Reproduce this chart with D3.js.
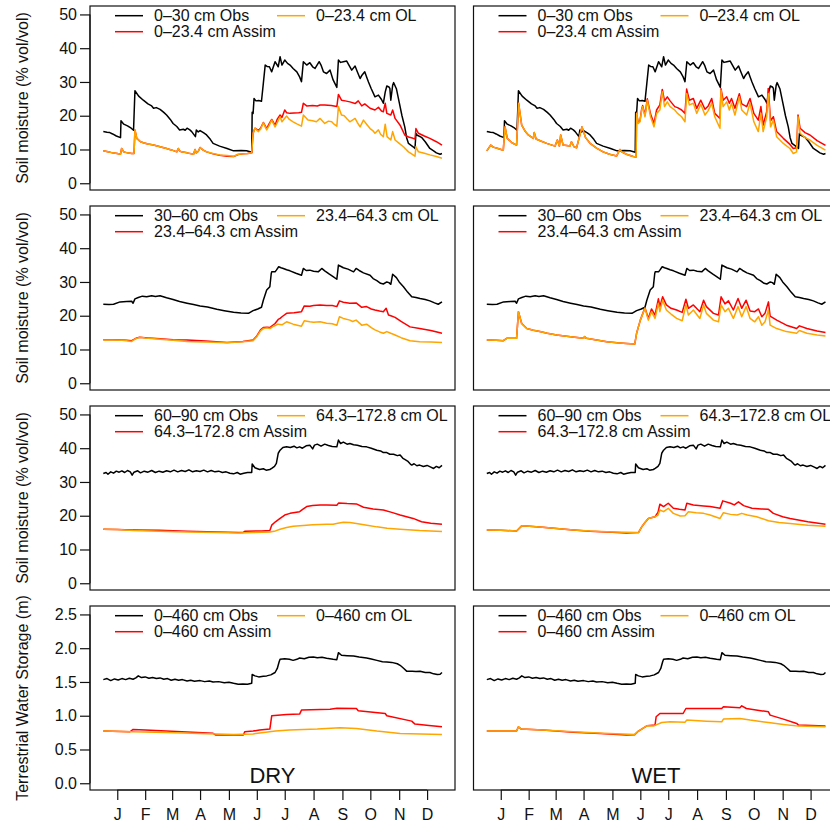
<!DOCTYPE html>
<html><head><meta charset="utf-8">
<script src="https://cdn.jsdelivr.net/npm/d3@7"></script>
<style>body{margin:0;background:#fff}svg{display:block;font-family:"Liberation Sans",Arial,Helvetica,sans-serif}</style>
</head><body><svg id="c" width="830" height="825"></svg>
<script>
const months = ["J","F","M","A","M","J","J","A","S","O","N","D"];
const monthDays = [15,45,74,104,135,165,195,226,257,287,318,348];
const soilTicks = [0,10,20,30,40,50];
const twsTicks = [0,0.5,1,1.5,2,2.5];
const yTitles = ["Soil moisture (% vol/vol)","Soil moisture (% vol/vol)","Soil moisture (% vol/vol)","Terrestrial Water Storage (m)"];
const legendObs = ["0\u201330 cm Obs","30\u201360 cm Obs","60\u201390 cm Obs","0\u2013460 cm Obs"];
const legendAssim = ["0\u201323.4 cm Assim","23.4\u201364.3 cm Assim","64.3\u2013172.8 cm Assim","0\u2013460 cm Assim"];
const legendOL = ["0\u201323.4 cm OL","23.4\u201364.3 cm OL","64.3\u2013172.8 cm OL","0\u2013460 cm OL"];
const scenarios = ["DRY","WET"];

// ---- Row 1: 0-30 cm ----
const obs1 = [[0,15.3],[4,15.1],[7,15.0],[10,14.6],[14,14.0],[18.5,13.5],[19,18.5],[22,17.5],[26,17.0],[30,16.3],[32.5,15.7],[34,27.4],[38,25.8],[43,24.6],[48,23.5],[52,22.9],[54,22.2],[57,22.4],[61,21.9],[65,21.0],[68,20.2],[72,18.9],[75,17.7],[79,16.8],[82,15.8],[86,16.0],[88,15.7],[90,16.3],[93,15.8],[95,15.3],[99,13.8],[100,15.8],[102,15.2],[104,15.6],[108,14.9],[111,14.3],[115,13.0],[118,11.8],[125,11.0],[133,10.3],[140,9.6],[148,9.7],[154,9.6],[159.5,9.2],[160,21.0],[161,20.7],[162,25.1],[164,24.4],[167,24.5],[170,24.3],[172,29.6],[174,35.0],[176,34.6],[178.5,34.5],[181,33.0],[184.6,36.0],[188,34.5],[190,37.5],[192,35.0],[195,36.5],[198,35.5],[200.7,35.0],[204,34.0],[208,33.0],[211,31.5],[213,30.1],[215,36.0],[218.6,35.0],[222,35.7],[225,34.5],[227.6,34.0],[232,36.0],[234,35.0],[236.6,33.0],[240,32.5],[243.7,33.5],[247,30.6],[251,28.4],[252.7,36.5],[255,35.8],[258,36.0],[261.6,36.2],[264,35.0],[267,33.5],[270.6,34.7],[273,33.0],[276,31.0],[278,32.0],[281,33.0],[283,31.5],[285,30.0],[288,28.0],[292,25.6],[295.7,26.1],[299,24.8],[301,23.7],[303,27.0],[304.7,28.8],[307,28.5],[308,28.1],[309,24.6],[311,29.0],[312,29.8],[315,28.0],[318,24.0],[321,20.0],[324,16.7],[326,13.5],[328,11.8],[333,10.8],[335,10.3],[336,14.8],[337,14.3],[342,13.6],[346,12.3],[351,10.3],[355,9.6],[358,9.0],[362,8.6],[364,8.8]];
const ol1Dry = [[0,9.6],[5,9.3],[10,9.0],[15,8.8],[18.5,8.6],[19.7,10.3],[22,9.3],[26,9.0],[30.5,8.8],[33,8.8],[34,15.8],[36,13.3],[40,12.3],[43,12.0],[48,11.6],[54,11.3],[60,10.9],[68,10.3],[74,9.8],[79,9.3],[80.6,10.3],[82,9.6],[84,9.3],[90,9.0],[97,8.6],[98.6,10.0],[100,9.0],[102,9.4],[104,10.6],[107,9.9],[111,9.3],[118,8.8],[125,8.4],[133,8.2],[140,8.0],[145,8.6],[150,8.7],[155,8.8],[159.5,9.0],[161,14.8],[163,16.3],[166.7,15.3],[169,16.0],[172,17.9],[175.6,15.8],[178,17.0],[181,18.7],[184.6,16.7],[187,18.0],[190,19.7],[192,18.2],[197,19.9],[200,18.9],[204,18.2],[208,17.6],[213,16.9],[215,20.2],[220,18.7],[225,18.5],[229,18.2],[233,19.2],[238,17.7],[242,18.4],[245.5,18.2],[248,17.5],[251,16.9],[252.7,22.7],[256,20.2],[259,20.0],[261.6,19.2],[265,18.2],[270.6,19.2],[273,18.0],[276,16.7],[279.6,18.7],[283,17.5],[286.7,16.2],[290,15.5],[292,14.8],[295.7,15.8],[298,14.5],[301,13.8],[303,17.5],[305,13.8],[309,12.8],[311,15.3],[313.6,12.8],[318,11.8],[322.6,10.8],[328,9.3],[333,8.4],[335,8.0],[336,10.8],[338.7,9.3],[345,8.9],[351,8.4],[358,7.9],[364,7.4]];
const assim1Dry = [[0,9.6],[5,9.3],[10,9.0],[15,8.8],[18.5,8.6],[19.7,10.3],[22,9.3],[26,9.0],[30.5,8.8],[33,8.8],[34,15.8],[36,13.3],[40,12.3],[43,12.0],[48,11.6],[54,11.3],[60,10.9],[68,10.3],[74,9.8],[79,9.3],[80.6,10.3],[82,9.6],[84,9.3],[90,9.0],[97,8.6],[98.6,10.0],[100,9.0],[102,9.4],[104,10.6],[107,9.9],[111,9.3],[118,8.7],[125,8.3],[133,8.0],[140,7.9],[145,8.5],[150,8.7],[155,8.8],[159.5,9.0],[161,14.8],[163,16.3],[166.7,15.6],[169,16.3],[172,18.0],[175.6,16.2],[178,17.5],[181,18.9],[184.6,17.2],[187,19.0],[190,20.2],[192,19.5],[195,21.7],[197,20.9],[200.7,20.7],[205,20.8],[210,20.9],[213,21.0],[215,23.7],[218.6,22.9],[225,23.0],[230,22.9],[233,23.2],[238,23.2],[245,23.0],[251,22.7],[252.7,26.3],[256,24.6],[260,24.4],[265,24.1],[270.6,23.6],[274,24.4],[277.8,22.9],[281,23.5],[286.7,22.2],[292,21.7],[295.7,22.5],[299,21.4],[301,21.2],[303,23.7],[304.7,20.7],[309,20.2],[311,21.7],[313.6,19.2],[319,17.2],[324,14.3],[328,13.7],[333,13.3],[335,13.1],[336,16.2],[338.7,14.8],[345,14.0],[351,13.3],[358,12.3],[364,11.3]];
const ol1Wet = [[0,9.6],[4.2,11.3],[7,10.7],[12,10.3],[17.7,9.8],[19.6,16.7],[22,13.3],[27,12.0],[32,11.3],[34.2,23.7],[37.5,17.2],[41,15.5],[44.6,14.3],[50,13.3],[51,15.0],[53,13.1],[58,12.5],[64.4,11.8],[73.3,11.0],[75.8,12.8],[78,11.0],[79.4,14.3],[82,11.3],[89.4,11.0],[91,12.3],[93.7,10.8],[96.5,10.5],[101,15.3],[102.3,16.7],[106,13.6],[111,11.8],[118,10.4],[125,9.3],[132,8.6],[139.6,8.1],[143,10.0],[145,9.3],[150,8.6],[157.4,7.9],[160.5,7.8],[161,20.7],[162.8,17.7],[164.6,18.2],[166.5,21.7],[167.5,22.7],[170,19.7],[172.5,24.6],[176,19.7],[179.7,16.7],[182.5,20.7],[186,21.7],[188.6,27.1],[191,22.7],[194,24.1],[197,22.7],[202,21.7],[205,20.7],[209.4,19.7],[213,18.2],[214.8,26.6],[217.7,23.2],[222,23.7],[225.6,20.7],[230,23.4],[234.5,20.2],[238,21.5],[241.7,23.7],[245,19.7],[250.6,16.3],[251.7,27.6],[254,22.7],[257.8,24.1],[260.7,21.7],[263,23.7],[266.7,20.2],[271.4,25.6],[274,21.7],[279.3,20.2],[282.9,23.7],[287,18.2],[291.8,15.3],[294.6,20.7],[297,15.3],[300.8,19.7],[302.5,26.6],[305,16.7],[308,18.7],[311.5,13.8],[318.7,11.8],[325.8,10.3],[329.4,8.8],[333,9.3],[334.5,19.7],[336.7,14.8],[342,13.5],[347.3,12.8],[355,11.2],[364,9.8]];
const assim1Wet = [[0,9.6],[4.2,11.3],[7,10.7],[12,10.3],[17.7,9.8],[19.6,16.7],[22,13.3],[27,12.0],[32,11.3],[34.2,23.7],[37.5,17.2],[41,15.5],[44.6,14.3],[50,13.3],[51,15.0],[53,13.1],[58,12.5],[64.4,11.8],[73.3,11.0],[75.8,12.8],[78,11.0],[79.4,14.3],[82,11.3],[89.4,11.0],[91,12.3],[93.7,10.8],[96.5,10.5],[101,15.3],[102.3,16.7],[106,13.6],[111,11.8],[118,10.4],[125,9.3],[132,8.6],[139.6,8.1],[143,10.0],[145,9.3],[150,8.6],[157.4,7.9],[160.5,7.8],[161,20.7],[162.8,17.9],[164.6,18.5],[166.5,22.0],[167.5,23.0],[170,20.2],[172.5,25.0],[176,20.5],[179.7,17.7],[182.5,21.7],[186,23.2],[188.6,27.8],[191,24.4],[194,25.6],[197,24.4],[202,22.7],[205,22.4],[209.4,21.7],[213,20.7],[214.8,27.9],[217.7,24.6],[222,25.1],[225.6,22.2],[230,24.6],[234.5,21.9],[238,22.9],[241.7,25.1],[245,20.7],[250.6,19.2],[251.7,28.0],[254,24.6],[257.8,25.6],[260.7,23.7],[263,25.1],[266.7,22.2],[271.4,26.5],[274,23.5],[279.3,22.7],[282.9,25.1],[287,20.7],[291.8,18.7],[294.6,22.7],[297,17.2],[300.8,21.2],[302.5,28.1],[305,18.5],[308,19.7],[311.5,15.3],[318.7,13.3],[325.8,11.5],[329.4,10.3],[333,10.5],[334.5,20.2],[336.7,16.3],[342,15.0],[347.3,14.3],[355,12.6],[364,11.2]];

// ---- Row 2: 30-60 cm ----
const obs2 = [[0,23.4],[6,23.3],[11,23.4],[18,24.1],[25,24.2],[30.5,24.3],[32,23.7],[34,25.0],[37.6,25.4],[42,25.8],[46.6,25.6],[52,25.9],[56,25.7],[61,25.9],[68,25.3],[75,24.8],[82,24.2],[90,23.7],[97,23.3],[104,22.9],[112,22.6],[122,21.9],[130,21.5],[140,21.0],[148,20.8],[156,20.7],[161,21.5],[166,22.0],[170,22.5],[172,24.6],[175.6,27.6],[179,28.6],[180.5,32.5],[181,33.0],[184.6,33.0],[186,33.5],[188.5,34.5],[191,34.2],[193.5,34.0],[197,33.6],[200.7,33.3],[207,32.6],[213,32.0],[215,34.0],[218,33.4],[222,33.5],[226,33.2],[231,33.0],[234.8,34.0],[238,33.3],[243,32.3],[247,31.6],[251,30.8],[252.7,35.0],[256,34.5],[258,34.2],[263,33.8],[269,33.0],[271.7,34.0],[275,33.4],[279.6,32.7],[286.7,32.0],[290,31.0],[294,30.4],[298,29.6],[301,29.4],[304.7,30.0],[307,29.8],[309,29.3],[311,32.3],[315,31.3],[318,30.0],[322.6,28.6],[327,27.0],[331.5,25.6],[336,25.4],[340.5,25.1],[346,24.8],[351,24.4],[356,23.8],[360,23.4],[364,24.1]];
const ol2Dry = [[0,12.8],[10,12.8],[20,12.7],[25,12.6],[30.5,12.4],[35,13.2],[39,13.6],[45,13.4],[61,13.0],[75,12.7],[90,12.4],[110,12.2],[133,12.0],[150,12.3],[161,12.6],[165,13.8],[169,15.5],[172,16.2],[176,16.4],[179,16.2],[183,16.9],[188,17.5],[192,17.3],[197,18.2],[204,17.5],[213,16.9],[216,18.5],[222,18.2],[226,18.1],[233,18.2],[240,17.8],[246,17.6],[251,17.2],[253.8,19.7],[258,19.2],[265,18.7],[268,18.3],[271.7,18.7],[277.8,17.2],[283,17.5],[288,16.5],[292,15.8],[297,15.2],[301,14.8],[304.7,15.3],[309,14.8],[313.6,14.3],[320,13.5],[329.7,12.6],[340,12.3],[352,12.2],[364,12.1]];
const assim2Dry = [[0,12.9],[10,12.9],[20,12.8],[25,12.7],[30.5,12.6],[35,13.3],[39,13.6],[45,13.5],[61,13.2],[75,12.9],[90,12.8],[110,12.5],[133,12.1],[150,12.4],[161,12.8],[165,14.0],[169,15.8],[172,16.5],[176,16.6],[179,16.5],[184.6,17.7],[188,18.9],[190,19.2],[192,19.7],[197,20.7],[205,20.9],[213,21.2],[216,22.9],[222,22.8],[226,23.0],[233,23.2],[240,23.0],[246,23.0],[251,22.7],[253.8,24.4],[258,24.0],[265,23.7],[271.7,23.8],[277.8,22.5],[283,22.7],[288,22.0],[292,21.7],[297,21.4],[301,21.2],[304,22.2],[306.5,20.2],[309,20.0],[313.6,19.5],[320,18.3],[329.7,16.7],[340,16.2],[352,15.6],[364,14.8]];
const ol2Wet = [[0,12.8],[10,12.7],[17.8,12.6],[21.4,13.3],[32,13.3],[34,21.2],[37.5,17.7],[43,16.2],[50,15.7],[57,15.3],[65,14.8],[75,14.3],[90,13.8],[104,13.3],[105,13.8],[107,13.3],[118,12.8],[129,12.3],[140,12.0],[150,11.8],[159,11.6],[161,14.8],[165,18.7],[170,22.2],[173.6,18.7],[177,21.2],[180.8,19.2],[184.4,23.7],[186,21.2],[189,24.6],[193,21.7],[198,20.5],[204,19.2],[210,18.5],[214,23.2],[216.7,20.2],[222,21.7],[229,19.2],[233,23.2],[236,20.7],[243.6,18.7],[249,18.2],[251.8,23.2],[256,21.2],[259.7,22.2],[265,19.2],[270,22.7],[274,19.7],[278.7,22.7],[283,19.2],[288,18.2],[292,19.7],[295.6,17.2],[299,18.2],[302.7,21.7],[304.5,17.2],[311.6,16.2],[322,15.3],[333,14.8],[336,15.6],[344,14.8],[355,14.3],[364,14.0]];
const assim2Wet = [[0,12.8],[10,12.7],[17.8,12.6],[21.4,13.3],[32,13.3],[34,21.2],[37.5,17.7],[43,16.2],[50,15.7],[57,15.3],[65,14.8],[75,14.3],[90,13.8],[104,13.3],[105,13.8],[107,13.3],[118,12.8],[129,12.3],[140,12.0],[150,11.8],[159,11.6],[161,14.8],[165,18.7],[170,22.4],[173.6,19.2],[177,22.0],[180.8,20.2],[184.4,25.0],[186,22.7],[189,25.6],[193,23.2],[198,22.2],[204,21.7],[210,21.0],[214,24.9],[216.7,22.2],[222,23.2],[229,21.2],[233,24.6],[236,22.7],[243.6,20.7],[249,20.2],[251.8,25.6],[256,23.5],[259.7,24.4],[265,21.7],[270,25.1],[274,22.2],[278.7,24.6],[283,21.4],[288,21.2],[292,22.0],[295.6,19.7],[299,20.7],[302.7,24.1],[304.5,19.9],[311.6,18.7],[322,17.2],[333,16.2],[336,17.0],[344,16.2],[355,15.5],[364,15.0]];

// ---- Row 3: 60-90 cm ----
const obs3 = [[0,32.5],[3,32.8],[5,32.3],[8,33.0],[11,32.6],[14,33.2],[17,32.9],[20,33.3],[23,32.8],[26,33.4],[29,33.0],[31,32.0],[33,32.9],[37,33.3],[40,32.7],[44,33.2],[48,32.9],[52,33.4],[56,32.8],[60,33.2],[64,32.9],[68,33.3],[72,33.0],[76,33.5],[80,33.0],[84,33.4],[88,33.1],[92,33.6],[96,33.0],[100,33.3],[104,33.1],[108,33.5],[112,33.0],[116,33.4],[120,33.0],[124,33.2],[128,32.8],[132,33.0],[136,32.6],[140,32.4],[144,32.8],[147,32.3],[151,32.6],[155,32.8],[159.5,32.8],[160,35.3],[163,34.2],[165,34.0],[168,33.7],[172,33.9],[175,33.5],[179,33.7],[181,34.0],[184,34.6],[186,35.5],[188,38.5],[190,39.4],[193,40.2],[197,40.4],[201,40.2],[205,40.6],[208,40.1],[211,40.4],[214,40.0],[218,40.7],[222,40.9],[225,39.8],[227,40.9],[230,41.2],[234,40.6],[238,41.2],[242,40.8],[246,40.5],[251,40.4],[252.7,42.4],[255,41.4],[258,41.8],[262,41.2],[265,41.4],[269,41.0],[273,40.9],[278,40.5],[283,40.4],[288,40.0],[294,39.4],[298,39.2],[301,38.7],[304.7,38.7],[308,38.2],[312,38.2],[316,37.8],[319,38.0],[322,37.0],[324,36.7],[327,36.2],[330,35.3],[331.5,35.0],[334,35.4],[337,34.8],[340,35.0],[344,34.6],[348,34.9],[352,34.4],[355,34.0],[358,34.6],[361,34.2],[364,34.9]];
const ol3Dry = [[0,16.0],[15,15.9],[32,15.6],[60,15.4],[90,15.2],[122,15.0],[145,14.9],[161,15.0],[179,15.2],[185,15.5],[190,16.0],[197,16.5],[204,16.9],[215,17.1],[225,17.3],[240,17.5],[247,17.5],[252,17.8],[258,18.1],[265,18.0],[272,17.7],[285,17.1],[294,16.7],[305,16.3],[319,16.0],[340,15.6],[364,15.3]];
const assim3Dry = [[0,16.0],[15,15.9],[32,15.8],[60,15.7],[90,15.4],[122,15.2],[145,15.0],[150,15.0],[152,15.4],[170,15.5],[179,15.6],[181,17.2],[185,18.2],[190,19.2],[195,20.2],[200.7,20.7],[211,21.2],[215,22.0],[218.6,22.7],[225,23.0],[233,23.2],[240,23.2],[251,23.1],[253,23.8],[262,23.6],[272,23.5],[279.6,22.5],[290,22.0],[301,21.7],[310,21.0],[319,20.2],[333,19.2],[342,18.2],[352,17.8],[364,17.5]];
const ol3Wet = [[0,15.8],[15,15.7],[32,15.5],[37.5,17.0],[46,16.9],[60,16.6],[75,16.2],[93,15.8],[111,15.5],[135,15.2],[163,15.0],[166.5,16.7],[170,18.0],[173.6,19.2],[180.8,19.7],[184,20.2],[186,21.7],[190,21.2],[195,22.2],[200.5,20.7],[207.8,19.9],[213,20.0],[216.7,21.2],[225,20.9],[233,20.7],[240,20.2],[250.7,19.2],[254.3,20.9],[262,20.4],[269,20.2],[274,20.7],[280,20.2],[290,19.7],[302.7,18.5],[314,18.0],[326,17.7],[345,17.2],[364,16.9]];
const assim3Wet = [[0,15.8],[15,15.7],[32,15.5],[37.5,17.0],[46,16.9],[60,16.6],[75,16.2],[93,15.8],[111,15.4],[135,15.1],[150,14.9],[163,15.0],[166.5,16.7],[170,18.0],[173.6,19.2],[180.8,19.7],[184,21.0],[186,23.4],[190,22.7],[195,23.7],[200.5,22.2],[207,21.9],[213,21.7],[215,23.7],[222,23.2],[233,22.9],[240,22.7],[250.7,22.2],[253.6,24.4],[262,23.7],[266,23.2],[270.5,24.1],[276,23.0],[285,22.2],[295,22.0],[302.7,21.9],[308,20.7],[318,19.7],[326,19.2],[345,18.2],[364,17.5]];

// ---- Row 4: terrestrial water storage (m) ----
const obs4 = [[0,1.535],[4,1.55],[8,1.52],[12,1.545],[16,1.53],[20,1.55],[24,1.535],[28,1.555],[32,1.54],[35,1.56],[37.6,1.59],[41,1.565],[45,1.575],[49,1.555],[53,1.565],[57,1.55],[61,1.56],[65,1.54],[69,1.55],[73,1.525],[77,1.54],[81,1.525],[85,1.535],[90,1.515],[94,1.525],[98,1.51],[104,1.52],[109,1.505],[114,1.515],[118,1.50],[124,1.505],[130,1.49],[135,1.495],[140,1.48],[145,1.467],[150,1.47],[155,1.465],[159.5,1.48],[160,1.61],[163,1.59],[167,1.575],[172,1.585],[175.6,1.59],[180,1.605],[184.6,1.64],[187,1.70],[189,1.80],[190,1.835],[195,1.845],[200,1.835],[204,1.82],[208,1.835],[211,1.855],[216,1.845],[221,1.865],[225.8,1.87],[230,1.86],[235,1.865],[240,1.85],[247,1.835],[251,1.83],[252.7,1.934],[256,1.895],[262,1.89],[269,1.885],[275,1.87],[283,1.855],[288,1.84],[294,1.82],[300,1.80],[304.7,1.795],[310,1.79],[316,1.77],[319,1.747],[323,1.70],[326,1.66],[332,1.66],[336,1.655],[340.5,1.658],[346,1.64],[351,1.64],[355,1.62],[359,1.61],[362,1.615],[364,1.64]];
const ol4Dry = [[0,0.773],[32,0.763],[68,0.750],[104,0.738],[140,0.723],[161,0.730],[185,0.773],[200,0.787],[230,0.802],[254.5,0.822],[272,0.812],[294,0.773],[319,0.738],[364,0.723]];
const assim4Dry = [[0,0.773],[28.7,0.763],[32,0.797],[45,0.790],[90,0.760],[118,0.740],[121,0.714],[150.5,0.714],[152,0.763],[161,0.773],[168,0.787],[179,0.802],[181,0.999],[197,1.019],[211,1.024],[213,1.083],[243.7,1.097],[251,1.112],[272,1.107],[274,1.073],[303,1.033],[304.7,0.999],[331.5,0.92],[335,0.876],[350,0.855],[364,0.837]];
const ol4Wet = [[0,0.773],[32,0.773],[34,0.837],[37,0.802],[60,0.787],[93,0.763],[125,0.740],[159,0.723],[163,0.773],[172,0.851],[179,0.846],[188,0.90],[197,0.91],[213,0.905],[215,0.935],[236,0.92],[252.5,0.91],[254.3,0.95],[272,0.96],[283,0.935],[302.7,0.90],[318.8,0.871],[335,0.846],[364,0.837]];
const assim4Wet = [[0,0.773],[32,0.773],[34,0.837],[37,0.802],[60,0.787],[93,0.755],[122,0.738],[150,0.714],[159,0.720],[163,0.773],[172,0.851],[180.8,0.861],[182,0.984],[186,1.033],[211,1.033],[214,1.107],[236,1.107],[252.5,1.107],[254.3,1.132],[272,1.117],[274,1.147],[279,1.107],[302.7,1.058],[304.5,1.009],[318.8,0.95],[333,0.886],[335,0.861],[364,0.846]];

const obsRows = [obs1, obs2, obs3, obs4];
const olRows = [[ol1Dry, ol1Wet],[ol2Dry, ol2Wet],[ol3Dry, ol3Wet],[ol4Dry, ol4Wet]];
const assimRows = [[assim1Dry, assim1Wet],[assim2Dry, assim2Wet],[assim3Dry, assim3Wet],[assim4Dry, assim4Wet]];

// ---- layout ----
const svg = d3.select("#c");
const colX = [90, 473.5], boxW = 365;
const rowY = [6, 206, 406, 606], boxH = 184;
const FONT = 16;
const COLORS = {obs:"#000000", assim:"#FF0000", ol:"#FFA500"};

for (let r = 0; r < 4; r++) {
  const isTWS = r === 3;
  const yDomain = isTWS ? [-0.1, 2.625] : [-2, 52.5];
  const ticks = isTWS ? twsTicks : soilTicks;
  for (let c = 0; c < 2; c++) {
    const x0 = colX[c], y0 = rowY[r];
    const x = d3.scaleLinear().domain([-14.3, 378]).range([x0, x0 + boxW]);
    const y = d3.scaleLinear().domain(yDomain).range([y0 + boxH, y0]);
    const g = svg.append("g");

    const line = d3.line().x(d => x(d[0])).y(d => y(d[1]));
    const series = [
      {data: obsRows[r], color: COLORS.obs},
      {data: assimRows[r][c], color: COLORS.assim},
      {data: olRows[r][c], color: COLORS.ol}
    ];
    series.forEach(s => {
      g.append("path").datum(s.data).attr("d", line)
        .attr("fill", "none").attr("stroke", s.color)
        .attr("stroke-width", 1.5).attr("stroke-linejoin", "round");
    });

    // box
    g.append("rect").attr("x", x0).attr("y", y0).attr("width", boxW).attr("height", boxH)
      .attr("fill", "none").attr("stroke", "#111").attr("stroke-width", 1.2);

    // y axis (left only)
    if (c === 0) {
      const ya = d3.axisLeft(y).tickValues(ticks).tickSize(10).tickPadding(3)
        .tickFormat(isTWS ? d3.format(".1f") : d3.format("d"));
      const ag = g.append("g").attr("transform", `translate(${x0},0)`).call(ya);
      ag.select(".domain").attr("d", `M0,${y(ticks[0])}V${y(ticks[ticks.length-1])}`).attr("stroke", "#111").attr("stroke-width", 1.2);
      ag.selectAll(".tick line").attr("stroke", "#111").attr("stroke-width", 1.2);
      ag.selectAll(".tick text").attr("font-size", FONT).attr("fill", "#111")
        .attr("font-family", "Liberation Sans, Arial, sans-serif");
      svg.append("text").attr("transform", `translate(22,${y0 + boxH / 2}) rotate(-90)`)
        .attr("text-anchor", "middle").attr("dominant-baseline", "central")
        .attr("font-size", FONT).attr("fill", "#111").text(yTitles[r]);
    }

    // x axis (bottom row)
    if (isTWS) {
      const xa = d3.axisBottom(x).tickValues(monthDays).tickSize(10).tickPadding(9)
        .tickFormat((d, i) => months[i]);
      const ag = g.append("g").attr("transform", `translate(0,${y0 + boxH})`).call(xa);
      ag.select(".domain").attr("d", `M${x(monthDays[0])},0H${x(monthDays[11])}`).attr("stroke", "#111").attr("stroke-width", 1.2);
      ag.selectAll(".tick line").attr("stroke", "#111").attr("stroke-width", 1.2);
      ag.selectAll(".tick text").attr("font-size", FONT).attr("fill", "#111")
        .attr("font-family", "Liberation Sans, Arial, sans-serif");
      g.append("text").attr("x", x0 + boxW / 2).attr("y", y0 + boxH - 7)
        .attr("text-anchor", "middle").attr("font-size", 22).attr("fill", "#111")
        .text(scenarios[c]);
    }

    // legend
    const leg = [
      {label: legendObs[r], color: COLORS.obs, col: 0, row: 0},
      {label: legendAssim[r], color: COLORS.assim, col: 0, row: 1},
      {label: legendOL[r], color: COLORS.ol, col: 1, row: 0}
    ];
    leg.forEach(l => {
      const lx = x0 + (l.col === 0 ? 25 : 187);
      const ly = y0 + 9.7 + l.row * 16;
      g.append("line").attr("x1", lx).attr("x2", lx + 28).attr("y1", ly).attr("y2", ly)
        .attr("stroke", l.color).attr("stroke-width", 1.5);
      g.append("text").attr("x", lx + 39).attr("y", ly).attr("dominant-baseline", "central")
        .attr("font-size", FONT).attr("fill", "#111").text(l.label);
    });
  }
}
</script></body></html>
